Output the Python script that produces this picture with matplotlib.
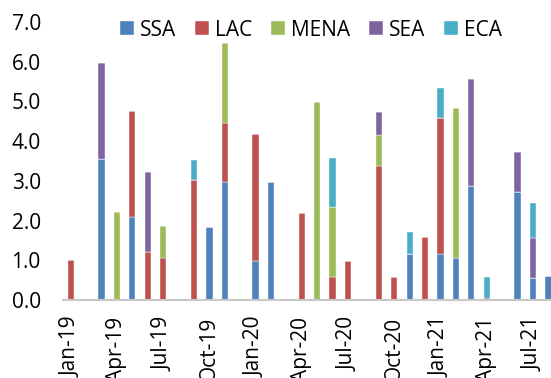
import numpy as np
import pandas as pd
from matplotlib import pyplot as plt

plt.rcParams['font.family'] = ['Open Sans', 'DejaVu Sans']

# 月次カテゴリ (Jan-19 ～ Aug-21)
months = pd.date_range('2019-01-01', '2021-08-01', freq='MS').strftime('%b-%y').tolist()

# 地域別の値 (月ごと、下から SSA, LAC, MENA, SEA, ECA の順に積み上げ)
ssa  = [0, 0, 3.55, 0, 2.08, 0, 0, 0, 0, 1.84, 2.98, 0,
        0.98, 2.96, 0, 0, 0, 0, 0, 0, 0, 0, 1.17, 0,
        1.17, 1.07, 2.86, 0, 0, 2.73, 0.56, 0.60]
lac  = [1.00, 0, 0, 0, 2.67, 1.22, 1.07, 0, 3.03, 0, 1.48, 0,
        3.21, 0, 0, 2.18, 0, 0.58, 0.98, 0, 3.38, 0.57, 0, 1.58,
        3.42, 0, 0, 0, 0, 0, 0, 0]
mena = [0, 0, 0, 2.22, 0, 0, 0.79, 0, 0, 0, 2.01, 0,
        0, 0, 0, 0, 4.99, 1.75, 0, 0, 0.77, 0, 0, 0,
        0, 3.77, 0, 0, 0, 0, 0, 0]
sea  = [0, 0, 2.41, 0, 0, 2.01, 0, 0, 0, 0, 0, 0,
        0, 0, 0, 0, 0, 0, 0, 0, 0.59, 0, 0, 0,
        0, 0, 2.71, 0.06, 0, 1.00, 1.01, 0]
eca  = [0, 0, 0, 0, 0, 0, 0, 0, 0.49, 0, 0, 0,
        0, 0, 0, 0, 0, 1.25, 0, 0, 0, 0, 0.54, 0,
        0.74, 0, 0, 0.51, 0, 0, 0.87, 0]

series = [('SSA', ssa, '#4F81BD'),
          ('LAC', lac, '#C0504D'),
          ('MENA', mena, '#9BBB59'),
          ('SEA', sea, '#8064A2'),
          ('ECA', eca, '#4BACC6')]

fig = plt.figure(figsize=(5.51, 3.78), dpi=100)
ax = fig.add_axes([63/551, 1 - 300/378, 1 - 63/551, (300 - 22)/378])

x = np.arange(len(months))
bottom = np.zeros(len(months))
for name, vals, col in series:
    vals = np.array(vals)
    ax.bar(x, vals, width=0.41, bottom=bottom, color=col, label=name,
           edgecolor='white', linewidth=0.3)
    bottom += vals

ax.set_xlim(-0.5, 31.17)
ax.set_ylim(0, 7.0)
ax.set_yticks(np.arange(0, 7.01, 1.0))
ax.set_yticklabels(['{:.1f}'.format(v) for v in np.arange(0, 7.01, 1.0)])
ax.set_xticks(x[::3])
ax.set_xticklabels(months[::3], rotation=90, va='top', ha='center')
ax.tick_params(axis='both', length=0, labelsize=15, colors='#000000')
ax.tick_params(axis='y', pad=16)
ax.tick_params(axis='x', pad=12)

for s in ['top', 'right', 'left']:
    ax.spines[s].set_visible(False)
ax.spines['bottom'].set_color('#C8C8C8')
ax.spines['bottom'].set_linewidth(1.5)

fig.legend(loc='center', bbox_to_anchor=(311/551, 1 - 30/378), ncol=5,
           frameon=False, fontsize=15, handlelength=0.67, handleheight=0.63,
           handletextpad=0.29, columnspacing=0.91, borderpad=0)

fig.savefig('out.png', dpi=100)
